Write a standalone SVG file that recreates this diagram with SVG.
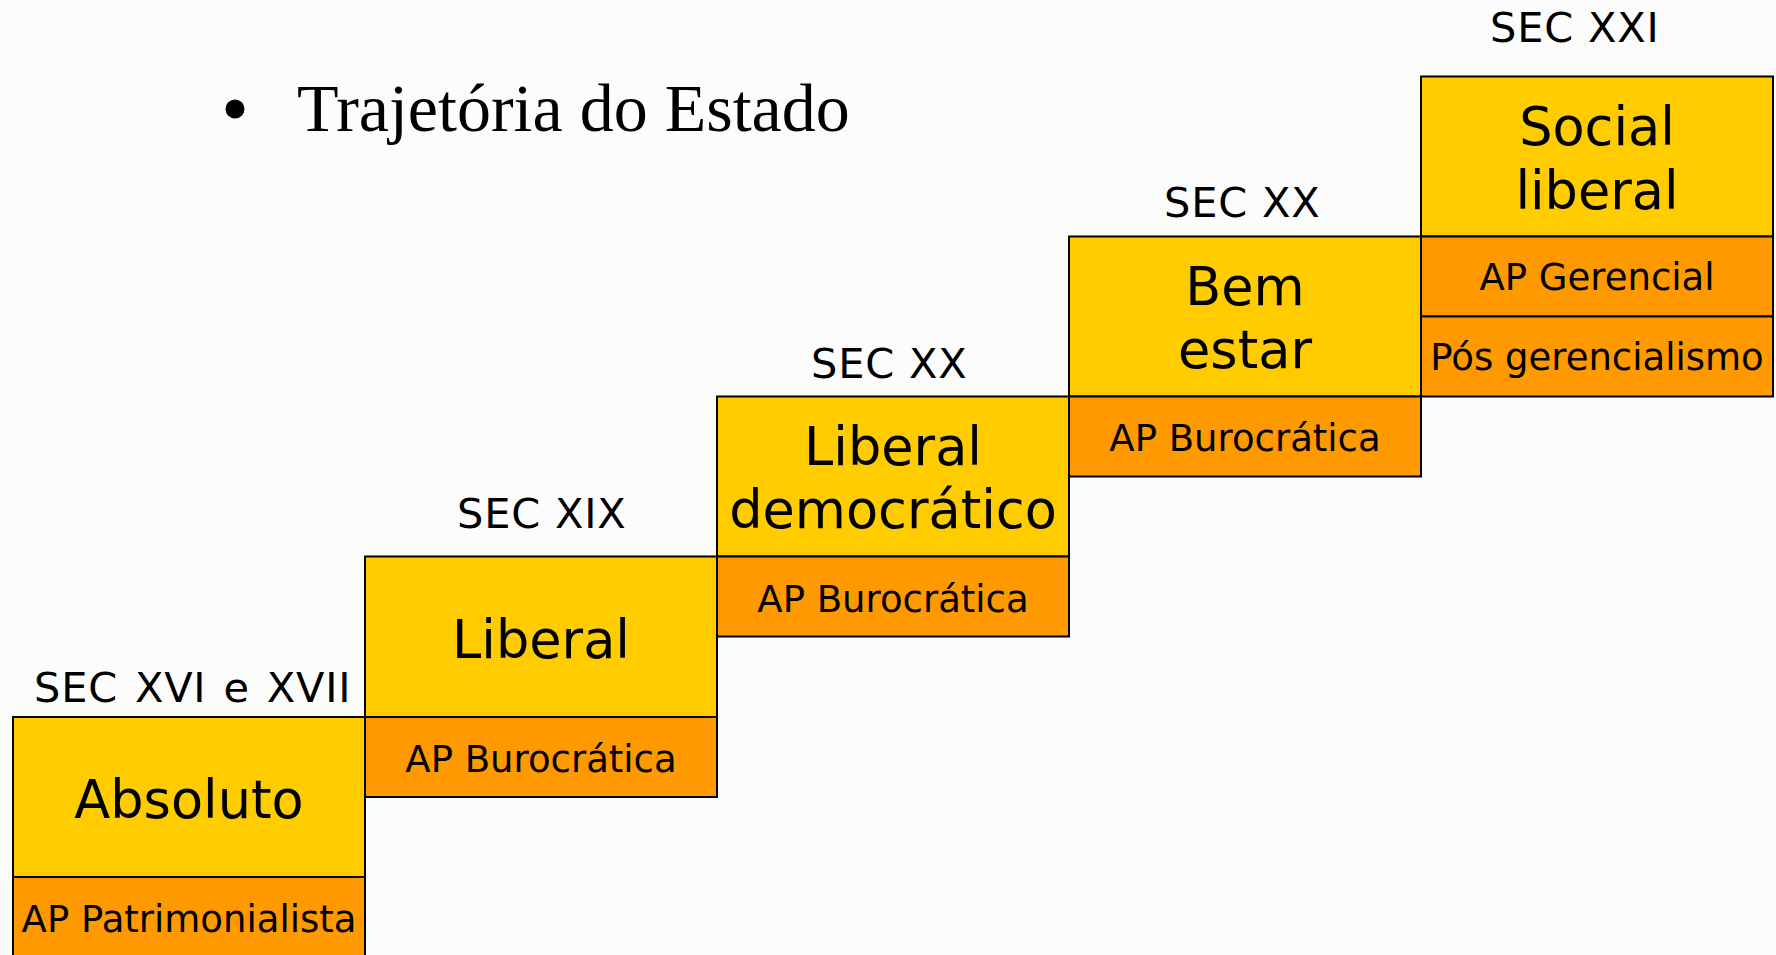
<svg xmlns="http://www.w3.org/2000/svg" width="1776" height="955" viewBox="0 0 1776 955">
  <style>
    .y { fill: #FFCC00; stroke: #000; stroke-width: 2; }
    .o { fill: #FF9900; stroke: #000; stroke-width: 2; }
    .big { font-family: "DejaVu Sans", Verdana, sans-serif; font-size: 52.5px; fill: #000; text-anchor: middle; }
    .sm { font-family: "DejaVu Sans", Verdana, sans-serif; font-size: 37px; fill: #000; text-anchor: middle; }
    .sec { font-family: "DejaVu Sans", Verdana, sans-serif; font-size: 41.5px; fill: #000; letter-spacing: 0.8px; }
    .title { font-family: "Liberation Serif", "Times New Roman", serif; font-size: 68px; fill: #000; }
  </style>
  <rect x="0" y="0" width="1776" height="955" fill="#FCFCFC"/>

  <g id="title">
    <circle cx="235" cy="109" r="9.5" fill="#000"/>
    <text class="title" x="297" y="131">Trajetória do Estado</text>
  </g>

  <g id="labels">
    <text class="sec" x="34" y="702" word-spacing="3">SEC XVI e XVII</text>
    <text class="sec" x="457" y="528">SEC XIX</text>
    <text class="sec" x="811" y="378">SEC XX</text>
    <text class="sec" x="1164" y="217">SEC XX</text>
    <text class="sec" x="1490" y="42">SEC XXI</text>
  </g>

  <g id="connectors"></g>

  <g id="absoluto">
    <rect class="y" x="13" y="717" width="352" height="160"/>
    <rect class="o" x="13" y="877" width="352" height="80"/>
    <text class="big" x="189" y="818">Absoluto</text>
    <text class="sm" x="189" y="932">AP Patrimonialista</text>
  </g>

  <g id="liberal">
    <rect class="y" x="365" y="556.5" width="352" height="160.5"/>
    <rect class="o" x="365" y="717" width="352" height="80"/>
    <text class="big" x="541" y="658">Liberal</text>
    <text class="sm" x="541" y="772">AP Burocrática</text>
  </g>

  <g id="liberal-democratico">
    <rect class="y" x="717" y="396.5" width="352" height="160"/>
    <rect class="o" x="717" y="556.5" width="352" height="80"/>
    <text class="big" x="893" y="465">Liberal</text>
    <text class="big" x="893" y="528">democrático</text>
    <text class="sm" x="893" y="611.5">AP Burocrática</text>
  </g>

  <g id="bem-estar">
    <rect class="y" x="1069" y="236.5" width="352" height="160"/>
    <rect class="o" x="1069" y="396.5" width="352" height="80"/>
    <text class="big" x="1245" y="305">Bem</text>
    <text class="big" x="1245" y="368">estar</text>
    <text class="sm" x="1245" y="451">AP Burocrática</text>
  </g>

  <g id="social-liberal">
    <rect class="y" x="1421" y="76.5" width="352" height="160"/>
    <rect class="o" x="1421" y="236.5" width="352" height="80"/>
    <rect class="o" x="1421" y="316.5" width="352" height="80"/>
    <text class="big" x="1597" y="145">Social</text>
    <text class="big" x="1597" y="209">liberal</text>
    <text class="sm" x="1597" y="290">AP Gerencial</text>
    <text class="sm" x="1597" y="370">Pós gerencialismo</text>
  </g>
</svg>
